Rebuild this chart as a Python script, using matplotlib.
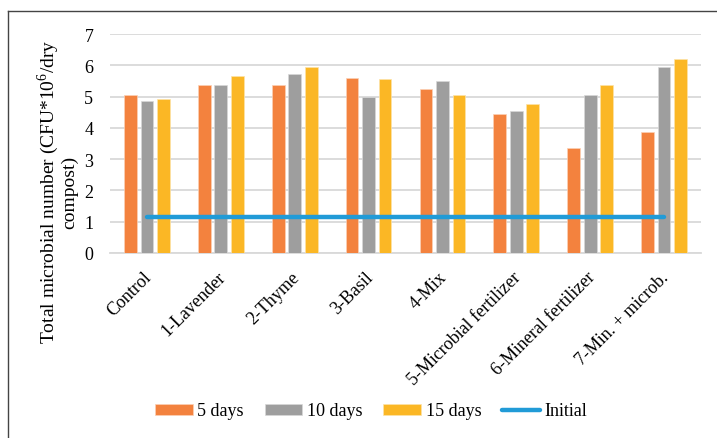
import matplotlib
matplotlib.use("Agg")
import matplotlib.pyplot as plt
import matplotlib.transforms as mtransforms
from matplotlib.lines import Line2D
import numpy as np

plt.rcParams['font.family'] = ['Liberation Serif', 'DejaVu Serif']
plt.rcParams['mathtext.fontset'] = 'custom'
plt.rcParams['mathtext.rm'] = 'Liberation Serif'

categories = ["Control", "1-Lavender", "2-Thyme", "3-Basil", "4-Mix",
              "5-Microbial fertilizer", "6-Mineral fertilizer", "7-Min. + microb."]
days5 = [5.05, 5.36, 5.36, 5.60, 5.23, 4.44, 3.37, 3.88]
days10 = [4.85, 5.36, 5.73, 5.00, 5.49, 4.54, 5.05, 5.93]
days15 = [4.91, 5.66, 5.93, 5.57, 5.05, 4.77, 5.38, 6.21]
initial = [1.16] * 8
series_names = ["5 days", "10 days", "15 days", "Initial"]
yticks = [0, 1, 2, 3, 4, 5, 6, 7]

c_orange = "#F3823E"
c_gray = "#9E9E9E"
c_yellow = "#FBB725"
c_blue = "#219BD7"

W, H = 717, 439
fig = plt.figure(figsize=(W / 100, H / 100), dpi=100)
ax = fig.add_axes([110 / W, 1 - 254 / H, (701 - 110) / W, (254 - 35) / H])

x = np.arange(len(categories))
bw = 0.173
off = 0.223
h1 = ax.bar(x - off, days5, width=bw, color=c_orange, edgecolor="#FBD0B5", linewidth=0.5, label=series_names[0], zorder=3)
h2 = ax.bar(x, days10, width=bw, color=c_gray, edgecolor="#D8D8D8", linewidth=0.5, label=series_names[1], zorder=3)
h3 = ax.bar(x + off, days15, width=bw, color=c_yellow, edgecolor="#FDE3A8", linewidth=0.5, label=series_names[2], zorder=3)
h4, = ax.plot(x, initial, color=c_blue, linewidth=3.2, solid_capstyle="round", label=series_names[3], zorder=4)

ax.set_xlim(-0.5, len(categories) - 0.5)
ax.set_ylim(0, 7)
ax.set_yticks(yticks)
ax.set_yticklabels([str(v) for v in yticks], fontsize=13)
ax.yaxis.grid(True, color="#D9D9D9", linewidth=1.3, zorder=0)
ax.set_axisbelow(True)
for s in ["top", "right", "left"]:
    ax.spines[s].set_visible(False)
ax.spines["bottom"].set_color("#D9D9D9")
ax.spines["bottom"].set_linewidth(1.3)
ax.tick_params(axis="y", length=0, pad=12)
ax.tick_params(axis="x", length=0, pad=11)
ax.set_xticks(x)
ax.set_xticklabels(categories, rotation=45, ha="right", va="top", fontsize=13)
shift = mtransforms.ScaledTranslation(0.08, 0, fig.dpi_scale_trans)
for lbl in ax.get_xticklabels():
    lbl.set_transform(lbl.get_transform() + shift)

fig.text(57 / W, 1 - 192 / H,
         "Total microbial number (CFU*10$^{6}$/dry\ncompost)",
         rotation=90, ha="center", va="center", multialignment="center",
         fontsize=14, linespacing=1.0)

leg = fig.legend([h1, h2, h3, h4], series_names, loc="center", bbox_to_anchor=(371 / W, 1 - 412 / H),
                 ncol=4, frameon=False, fontsize=13, handlelength=2.1,
                 handleheight=0.55, columnspacing=1.15, handletextpad=0.25)

fig.add_artist(Line2D([8 / W, 1.0], [1 - 12 / H, 1 - 12 / H], transform=fig.transFigure,
                      color="#444444", linewidth=1.0))
fig.add_artist(Line2D([8 / W, 8 / W], [0.0, 1 - 12 / H], transform=fig.transFigure,
                      color="#444444", linewidth=1.0))

fig.savefig("out.png", dpi=100)
